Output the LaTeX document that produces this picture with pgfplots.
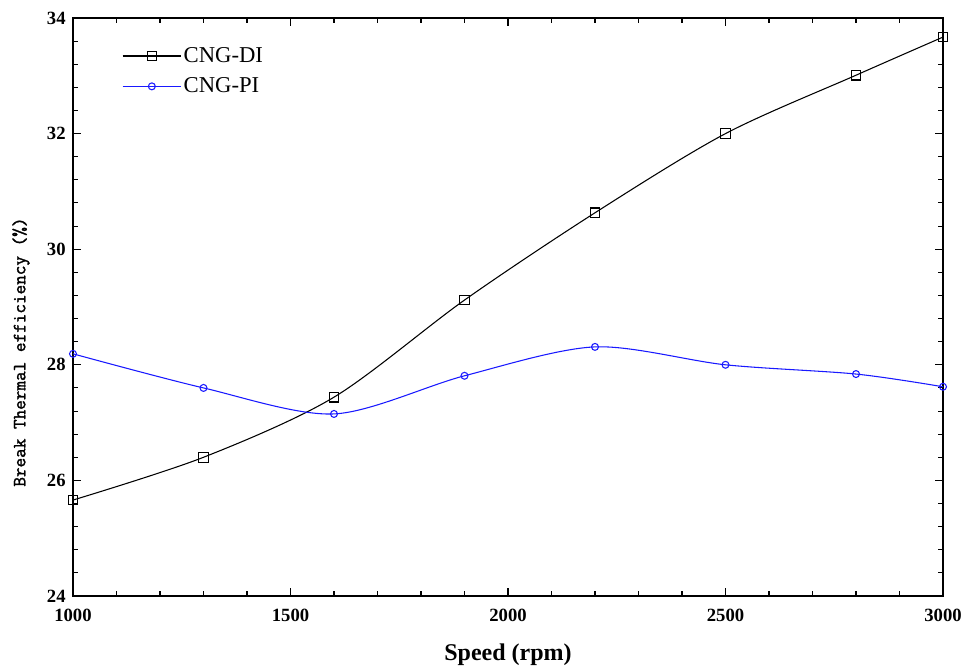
\documentclass[border=0pt]{standalone}
\usepackage{pgfplots}
\pgfplotsset{compat=1.18}
\usepackage{fontspec}
\setmainfont{Liberation Serif}
\newfontfamily\tickfont{Liberation Serif}
\newfontfamily\ylabfont{Latin Modern Mono}[FakeBold=1.6]
\definecolor{piblue}{RGB}{25,25,255}
\pgfplotstableread{
x y
1000 25.66
1300 26.40
1600 27.44
1900 29.12
2200 30.63
2500 32.00
2800 33.01
3000 33.67
}\di
\pgfplotstableread{
x y
1000 28.19
1300 27.60
1600 27.15
1900 27.81
2200 28.31
2500 28.00
2800 27.84
3000 27.62
}\pinj
\begin{document}
\begin{tikzpicture}
\begin{axis}[
  scale only axis,
  width=652.5pt, height=433.5pt,
  xmin=1000, xmax=3000, ymin=24, ymax=34,
  xtick={1000,1500,...,3000},
  ytick={24,26,...,34},
  minor x tick num=4,
  minor y tick num=4,
  tick align=inside,
  major tick length=6pt,
  minor tick length=3.5pt,
  axis line style={line width=1.1pt},
  every tick/.style={black, line width=0.8pt},
  /pgf/number format/1000 sep={},
  /pgf/number format/assume math mode=true,
  ticklabel style={font=\fontsize{14}{16}\selectfont\bfseries\tickfont},
  xticklabel style={yshift=-6pt},
  yticklabel style={xshift=-2pt},
  xlabel={Speed (rpm)},
  xlabel style={at={(axis description cs:0.5,-0.1015)}, anchor=center, font=\fontsize{18}{20}\selectfont\bfseries},
  ylabel={Break Thermal efficiency (\%)},
  ylabel style={at={(axis description cs:-0.0598,0.422)}, anchor=center, rotate=0, font=\fontsize{14}{16}\selectfont\ylabfont},
  legend style={draw=none, fill=none, at={(axis description cs:0.056,0.954)}, anchor=north west,
    font=\fontsize{17}{19}\selectfont, row sep=6pt, inner sep=0pt,
    /tikz/every even column/.append style={column sep=0pt}},
  legend cell align=left,
  legend image code/.code={
    \draw[#1, mark=none] (0pt,0pt) -- (43.5pt,0pt);
    \draw[#1, only marks] plot coordinates {(22pt,0pt)};
  },
  clip=false,
]
\addplot[black, line width=0.8pt, smooth, mark=square, mark size=3.6pt, mark options={solid, fill=white, line width=0.8pt}] table[x=x,y=y] {\di};
\addlegendentry{CNG-DI}
\addplot[piblue, line width=0.8pt, smooth, mark=o, mark size=2.6pt, mark options={solid, fill=white, line width=0.8pt}] table[x=x,y=y] {\pinj};
\addlegendentry{CNG-PI}
\end{axis}
\pgfresetboundingbox
\path[use as bounding box] ([xshift=-54.75pt,yshift=-54pt]current axis.south west) rectangle ([xshift=15pt,yshift=13.5pt]current axis.north east);
\end{tikzpicture}
\end{document}
